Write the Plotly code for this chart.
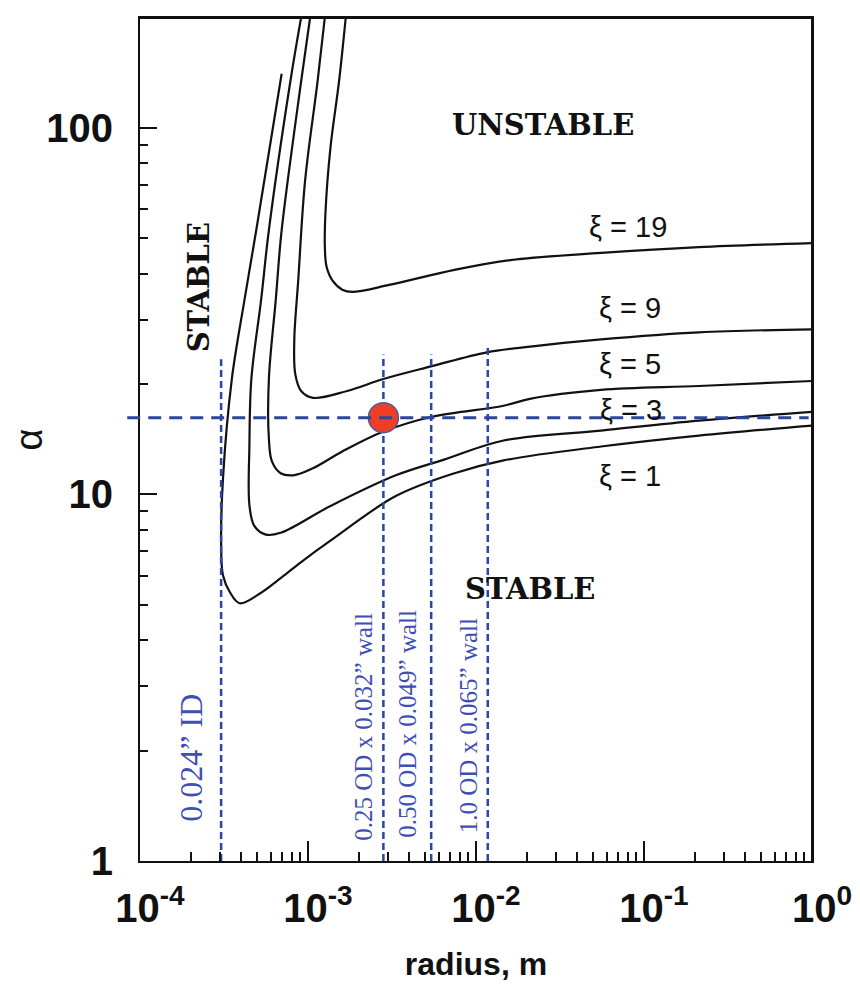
import plotly.graph_objects as go

# ---------------- data ----------------
xi1_r = [6.97e-4, 4.92e-4, 4.19e-4, 3.52e-4, 3.12e-4, 3.04e-4, 3.12e-4, 3.43e-4, 3.92e-4,
         5.12e-4, 6.97e-4, 9.10e-4, 1.36e-3, 3.33e-3, 7.45e-3, 1.46e-2, 5.55e-2, 0.212, 1.0]
xi1_a = [140.6, 52.6, 34.0, 20.65, 11.08, 7.30, 6.01, 5.41, 5.05,
         5.35, 5.94, 6.54, 7.48, 9.90, 11.43, 12.39, 13.52, 14.48, 15.41]

xi3_r = [9.22e-4, 7.85e-4, 5.85e-4, 5.26e-4, 4.60e-4, 4.48e-4, 4.48e-4, 4.79e-4, 5.62e-4,
         6.87e-4, 1.36e-3, 3.33e-3, 6.52e-3, 1.46e-2, 5.55e-2, 0.212, 1.0]
xi3_a = [207, 133.9, 52.6, 34.0, 20.65, 13.6, 9.36, 8.21, 7.77,
         7.86, 9.30, 11.28, 12.47, 14.04, 14.94, 15.90, 16.81]

xi5_r = [1.04e-3, 9.10e-4, 6.97e-4, 6.43e-4, 5.85e-4, 5.85e-4, 6.10e-4, 6.87e-4, 8.18e-4,
         1.07e-3, 1.60e-3, 2.81e-3, 5.47e-3, 1.46e-2, 2.09e-2, 5.55e-2, 0.212, 1.0]
xi5_a = [207, 133.9, 52.6, 34.0, 20.65, 14.21, 12.31, 11.43, 11.28,
         11.79, 13.10, 14.85, 16.30, 17.46, 18.24, 19.29, 19.77, 20.40]

xi9_r = [1.27e-3, 1.14e-3, 9.61e-4, 8.75e-4, 8.29e-4, 8.40e-4, 9.10e-4, 1.07e-3,
         1.71e-3, 2.81e-3, 5.47e-3, 1.16e-2, 2.17e-2, 5.55e-2, 0.212, 1.0]
xi9_a = [207, 133.9, 71.8, 38.5, 26.5, 21.3, 19.16, 18.35,
         19.16, 20.65, 22.39, 24.43, 25.37, 26.5, 27.7, 28.2]

xi19_r = [1.69e-3, 1.53e-3, 1.36e-3, 1.27e-3, 1.26e-3, 1.29e-3, 1.40e-3, 1.60e-3,
          1.83e-3, 3.04e-3, 7.45e-3, 1.60e-2, 5.55e-2, 0.212, 1.0]
xi19_a = [207, 133.9, 88.2, 58.5, 47.3, 41.8, 38.3, 36.2,
          35.7, 37.3, 41.0, 43.6, 45.6, 47.3, 48.5]

xi_labels = ["ξ = 1", "ξ = 3", "ξ = 5", "ξ = 9", "ξ = 19"]

tube_labels = ["0.024” ID", "0.25 OD x 0.032” wall", "0.50 OD x 0.049” wall", "1.0 OD x 0.065” wall"]
tube_r = [3.04e-4, 2.81e-3, 5.41e-3, 1.175e-2]
tube_top = [23.4, 24.1, 24.1, 25.1]

design_r = 2.81e-3
design_alpha = 16.2

x_tickvals = [1e-4, 1e-3, 1e-2, 1e-1, 1.0]
x_ticktext = ["10<sup>-4</sup>", "10<sup>-3</sup>", "10<sup>-2</sup>", "10<sup>-1</sup>", "10<sup>0</sup>"]
y_tickvals = [1, 10, 100]
y_ticktext = ["1", "10", "100"]

# ---------------- layout helpers ----------------
# The page body keeps its default 8 px margin, so the figure is made 8 px smaller
# and its margins are shifted by 8 px to land the plot area at the same screen place.
OFF = 8
W, H = 860 - OFF, 984 - OFF
L, R, T, B = 128, 816, 16, 866   # plot area in screen pixels


def px(X):
    return (X - L) / (R - L)


def py(Y):
    return (B - Y) / (B - T)


BLUE = "#2B45A0"
TXTBLUE = "#3F4EB3"

fig = go.Figure()

curves = [(xi1_r, xi1_a), (xi3_r, xi3_a), (xi5_r, xi5_a), (xi9_r, xi9_a), (xi19_r, xi19_a)]
for (r, a), name in zip(curves, xi_labels):
    fig.add_trace(go.Scatter(x=r, y=a, mode="lines", name=name,
                             line=dict(color="#111111", width=2.2, shape="spline", smoothing=1.0),
                             showlegend=False, hoverinfo="skip"))

for r, top in zip(tube_r, tube_top):
    fig.add_trace(go.Scatter(x=[r, r], y=[1, top], mode="lines",
                             line=dict(color=BLUE, width=2.5, dash="7px,4px"),
                             showlegend=False, hoverinfo="skip"))

fig.add_shape(type="line", xref="paper", yref="y", x0=-0.019, x1=0.995,
              y0=design_alpha, y1=design_alpha,
              line=dict(color=BLUE, width=3, dash="13px,8px"))

# plot frame (top and right sides)
fig.add_shape(type="line", xref="paper", yref="paper", x0=0, x1=1, y0=1, y1=1,
              line=dict(color="#111111", width=2), layer="above")
fig.add_shape(type="line", xref="paper", yref="paper", x0=1, x1=1, y0=0, y1=1,
              line=dict(color="#111111", width=2), layer="above")

fig.add_trace(go.Scatter(x=[design_r], y=[design_alpha], mode="markers",
                         marker=dict(size=30, color="#EE3F24", line=dict(color="#4A5BA8", width=1.5)),
                         showlegend=False, hoverinfo="skip"))

# curve labels
label_pos = [(630, 478), (631, 411), (630, 365), (630, 308), (628, 227)]
for txt, (X, Y) in zip(xi_labels, label_pos):
    fig.add_annotation(x=px(X), y=py(Y), xref="paper", yref="paper", text=txt, showarrow=False,
                       font=dict(family="Liberation Sans", size=29, color="#111111"),
                       xanchor="center", yanchor="middle")

serif_bold = dict(family="DejaVu Serif", size=29, color="#111111", weight="bold")
fig.add_annotation(x=px(541), y=py(124), xref="paper", yref="paper", text="UNSTABLE",
                   showarrow=False, font=serif_bold, xanchor="center", yanchor="middle")
fig.add_annotation(x=px(527), y=py(592), xref="paper", yref="paper", text="STABLE",
                   showarrow=False, font=serif_bold, xanchor="center", yanchor="middle")
fig.add_annotation(x=px(188), y=py(288), xref="paper", yref="paper", text="STABLE",
                   showarrow=False, font=serif_bold, textangle=-90, xanchor="center", yanchor="middle")

# tube labels
tube_pos = [(180, 762), (356, 731), (401, 728), (464, 730)]
tube_size = [32, 25, 25, 25]
for txt, (X, Y), s in zip(tube_labels, tube_pos, tube_size):
    fig.add_annotation(x=px(X), y=py(Y), xref="paper", yref="paper", text=txt, showarrow=False,
                       font=dict(family="Liberation Serif", size=s, color=TXTBLUE),
                       textangle=-90, xanchor="center", yanchor="middle")

axis_common = dict(type="log", showgrid=False, zeroline=False, showline=True, linecolor="#111111",
                   linewidth=2, mirror=True, ticks="inside", tickcolor="#111111", tickwidth=2)

fig.update_xaxes(**axis_common, range=[-4, 0], tickvals=x_tickvals, ticktext=x_ticktext, ticklen=20,
                 tickfont=dict(family="Liberation Sans", size=40, color="#111111", weight="bold"),
                 ticklabelshift=10, ticklabelstandoff=11,
                 minor=dict(ticks="inside", ticklen=9, tickwidth=1.5, tickcolor="#111111",
                            showgrid=False, dtick="D1"),
                 title=dict(text="radius, m", standoff=24,
                            font=dict(family="Liberation Sans", size=32, color="#111111", weight="bold")))

fig.update_yaxes(**axis_common, range=[0, 2.3], tickvals=y_tickvals, ticktext=y_ticktext, ticklen=17,
                 tickfont=dict(family="Liberation Sans", size=40, color="#111111", weight="bold"),
                 ticklabelstandoff=17,
                 minor=dict(ticks="inside", ticklen=8, tickwidth=1.5, tickcolor="#111111",
                            showgrid=False, dtick="D1"),
                 title=dict(text="α", standoff=4,
                            font=dict(family="Liberation Sans", size=38, color="#111111")))

fig.update_layout(width=W, height=H,
                  margin=dict(l=L - OFF, r=(860 - R), t=T - OFF, b=(984 - B) - OFF),
                  plot_bgcolor="white", paper_bgcolor="white", showlegend=False)

fig.write_html("out.html", config={"displayModeBar": False})
